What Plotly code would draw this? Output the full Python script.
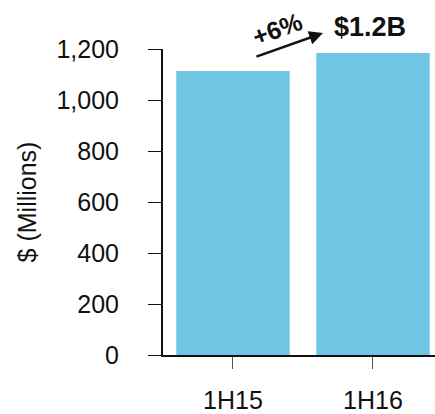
import plotly.graph_objects as go

# Revenue by half-year, $ millions
periods = ["1H15", "1H16"]
revenue = [1114, 1184]
growth_label = "+6%"
total_label = "$1.2B"
y_ticks = [0, 200, 400, 600, 800, 1000, 1200]

BAR_COLOR = "#70C5E5"
FONT = "Liberation Sans, Arial, sans-serif"

fig = go.Figure(
    go.Bar(
        x=periods,
        y=revenue,
        marker=dict(color=BAR_COLOR, line=dict(width=0)),
        width=0.81,
    )
)

fig.update_layout(
    width=435,
    height=414,
    margin=dict(l=163, r=0, t=49, b=59),
    plot_bgcolor="white",
    paper_bgcolor="white",
    showlegend=False,
    font=dict(family=FONT, size=25, color="#111111"),
)

fig.update_xaxes(
    type="category",
    range=[-0.5, 1.443],
    automargin=False,
    showline=True,
    linecolor="#111111",
    linewidth=2,
    ticks="outside",
    ticklen=12,
    tickcolor="#555555",
    tickwidth=1,
    ticklabelstandoff=10,
    showgrid=False,
    zeroline=False,
)

fig.update_yaxes(
    range=[0, 1200],
    automargin=False,
    tickvals=y_ticks,
    ticktext=[f"{v:,}" for v in y_ticks],
    showline=True,
    linecolor="#111111",
    linewidth=2,
    ticks="outside",
    ticklen=13,
    tickcolor="#111111",
    tickwidth=1,
    ticklabelstandoff=24,
    showgrid=False,
    zeroline=False,
    title=dict(text="$ (Millions)", standoff=13, font=dict(size=25)),
)

# Growth arrow from the first bar toward the second (paper coords, above the plot)
fig.add_annotation(
    x=0.588, y=1.052, xref="paper", yref="paper",
    ax=-68, ay=24, axref="pixel", ayref="pixel",
    text="", showarrow=True,
    arrowhead=2, arrowsize=1.1, arrowwidth=2.5, arrowcolor="#111111",
)
fig.add_annotation(
    x=0.42, y=1.065, xref="paper", yref="paper",
    xanchor="center", yanchor="middle",
    text=f"<b>{growth_label}</b>", showarrow=False,
    textangle=-20, font=dict(size=25, color="#111111"),
)
fig.add_annotation(
    x=0.761, y=1.072, xref="paper", yref="paper",
    xanchor="center", yanchor="middle",
    text=f"<b>{total_label}</b>", showarrow=False,
    font=dict(size=27, color="#111111"),
)

fig.write_html("out.html")
